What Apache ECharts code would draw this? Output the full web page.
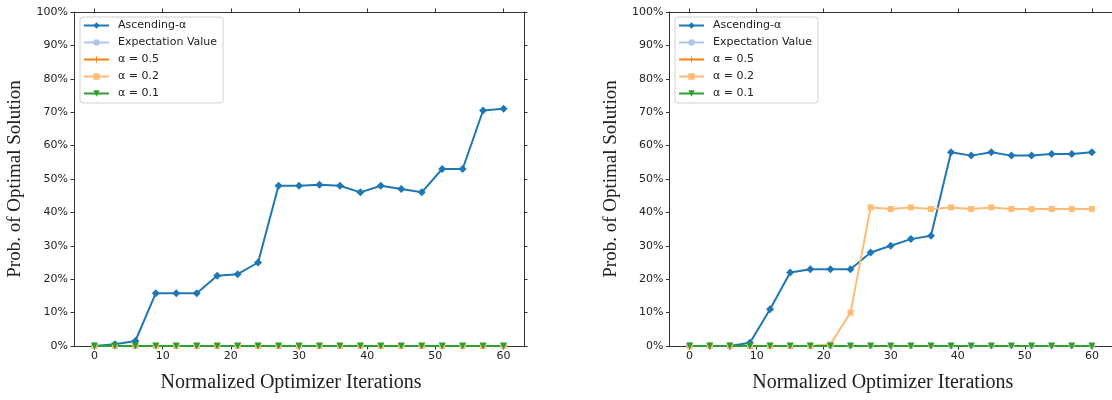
<!DOCTYPE html>
<html>
<head>
<meta charset="utf-8">
<script src="https://cdn.jsdelivr.net/npm/echarts@6/dist/echarts.min.js"></script>
<style>
  html, body { margin: 0; padding: 0; background: #fff; }
  #chart { width: 1112px; height: 400px; }
</style>
</head>
<body>
<div id="chart"></div>
<script>
const iterations = [0, 3, 6, 9, 12, 15, 18, 21, 24, 27, 30, 33, 36, 39, 42, 45, 48, 51, 54, 57, 60];
const xTickValues = [0, 10, 20, 30, 40, 50, 60];
const seriesNames = ["Ascending-α", "Expectation Value", "α = 0.5", "α = 0.2", "α = 0.1"];

// left panel (values in %)
const leftAscending = [0, 0.5, 1.5, 15.8, 15.8, 15.8, 21, 21.5, 25, 48, 48, 48.3, 48, 46, 48, 47, 46, 53, 53, 70.5, 71];
const leftExpectation = [0, 0, 0, 0, 0, 0, 0, 0, 0, 0, 0, 0, 0, 0, 0, 0, 0, 0, 0, 0, 0];
const leftAlpha05 = [0, 0, 0, 0, 0, 0, 0, 0, 0, 0, 0, 0, 0, 0, 0, 0, 0, 0, 0, 0, 0];
const leftAlpha02 = [0, 0, 0, 0, 0, 0, 0, 0, 0, 0, 0, 0, 0, 0, 0, 0, 0, 0, 0, 0, 0];
const leftAlpha01 = [0, 0, 0, 0, 0, 0, 0, 0, 0, 0, 0, 0, 0, 0, 0, 0, 0, 0, 0, 0, 0];

// right panel (values in %)
const rightAscending = [0, 0, 0, 1, 11, 22, 23, 23, 23, 28, 30, 32, 33, 58, 57, 58, 57, 57, 57.5, 57.5, 58];
const rightExpectation = [0, 0, 0, 0, 0, 0, 0, 0, 0, 0, 0, 0, 0, 0, 0, 0, 0, 0, 0, 0, 0];
const rightAlpha05 = [0, 0, 0, 0, 0, 0, 0, 0, 0, 0, 0, 0, 0, 0, 0, 0, 0, 0, 0, 0, 0];
const rightAlpha02 = [0, 0, 0, 0, 0, 0, 0, 0.5, 10, 41.5, 41, 41.5, 41, 41.5, 41, 41.5, 41, 41, 41, 41, 41];
const rightAlpha01 = [0, 0, 0, 0, 0, 0, 0, 0, 0, 0, 0, 0, 0, 0, 0, 0, 0, 0, 0, 0, 0];

const colors = ["#1f77b4", "#aec7e8", "#ff7f0e", "#ffbb78", "#2ca02c"];
const symbols = ["diamond", "circle", "path://M4.3,0H5.7V4.3H10V5.7H5.7V10H4.3V5.7H0V4.3H4.3Z", "rect", "triangle"];
const symbolSizes = [8, 6, 6, 6, 7];
const symbolRotates = [0, 0, 0, 0, 180];

const axisColor = "#333";
const labelFont = { fontFamily: "DejaVu Sans", fontSize: 11, color: "#222" };
const titleFont = { fontFamily: "Liberation Serif", color: "#222" };

function pairs(values) {
  return iterations.map((x, i) => [x, values[i]]);
}

function panelSeries(valueLists, axisIdx) {
  return valueLists.map((vals, i) => ({
    name: seriesNames[i],
    type: "line",
    xAxisIndex: axisIdx,
    yAxisIndex: axisIdx,
    data: pairs(vals),
    color: colors[i],
    symbol: symbols[i],
    symbolSize: symbolSizes[i],
    symbolRotate: symbolRotates[i],
    showAllSymbol: true,
    lineStyle: { width: 2, color: colors[i] },
    itemStyle: { color: colors[i] },
  }));
}

function xAxes(gridIndex) {
  const base = {
    type: "value",
    gridIndex,
    min: -3,
    max: 63,
    splitLine: { show: false },
    axisLine: { show: true, onZero: false, lineStyle: { color: axisColor, width: 1 } },
    axisTick: { show: true, length: 3.5, customValues: xTickValues, lineStyle: { color: axisColor } },
  };
  return [
    {
      ...base,
      position: "bottom",
      axisLabel: { ...labelFont, margin: 5, customValues: xTickValues },
      name: "Normalized Optimizer Iterations",
      nameLocation: "middle",
      nameGap: 27,
      nameTextStyle: { ...titleFont, fontSize: 20, padding: [0, 16, 0, 0] },
    },
    { ...base, position: "top", axisLabel: { show: false } },
  ];
}

function yAxes(gridIndex) {
  const base = {
    type: "value",
    gridIndex,
    min: 0,
    max: 100,
    interval: 10,
    splitLine: { show: false },
    axisLine: { show: true, onZero: false, lineStyle: { color: axisColor, width: 1 } },
    axisTick: { show: true, length: 3.5, lineStyle: { color: axisColor } },
  };
  return [
    {
      ...base,
      position: "left",
      axisLabel: { ...labelFont, margin: 6, formatter: "{value}%" },
      name: "Prob. of Optimal Solution",
      nameLocation: "middle",
      nameGap: 49,
      nameTextStyle: { ...titleFont, fontSize: 19 },
    },
    { ...base, position: "right", axisLabel: { show: false } },
  ];
}

function legendAt(left) {
  return {
    orient: "vertical",
    left,
    top: 17,
    data: seriesNames,
    itemWidth: 25,
    itemHeight: 8,
    itemGap: 6,
    padding: [3, 6, 4, 3],
    borderColor: "#d0d0d0",
    borderWidth: 1,
    borderRadius: 3,
    backgroundColor: "rgba(255,255,255,0.85)",
    textStyle: { ...labelFont, padding: [0, 0, 0, 4] },
  };
}

const chart = echarts.init(document.getElementById("chart"));
chart.setOption({
  animation: false,
  backgroundColor: "#fff",
  grid: [
    { left: 74, right: 588, top: 12, bottom: 54 },
    { left: 669.5, right: -8.5, top: 12, bottom: 54 },
  ],
  legend: [legendAt(80), legendAt(675)],
  xAxis: [...xAxes(0), ...xAxes(1)],
  yAxis: [...yAxes(0), ...yAxes(1)],
  series: [
    ...panelSeries([leftAscending, leftExpectation, leftAlpha05, leftAlpha02, leftAlpha01], 0),
    ...panelSeries([rightAscending, rightExpectation, rightAlpha05, rightAlpha02, rightAlpha01], 2),
  ],
});
</script>
</body>
</html>
